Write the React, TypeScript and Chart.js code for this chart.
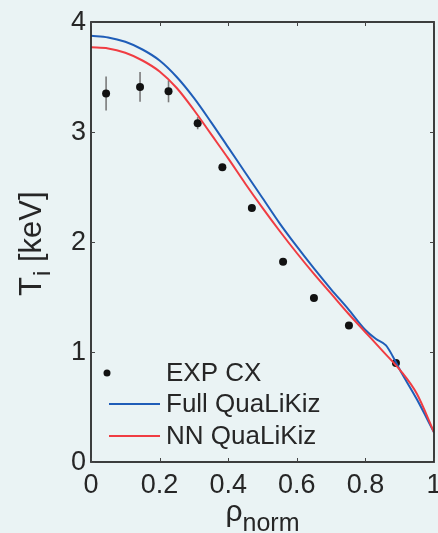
import React, { useEffect, useRef } from 'react';
import { Chart, registerables } from 'chart.js';

Chart.register(...registerables);

// Experimental CX data
const expRho = [0.044, 0.143, 0.226, 0.311, 0.383, 0.469, 0.56, 0.65, 0.752, 0.889];
const expTi = [3.35, 3.41, 3.37, 3.08, 2.68, 2.31, 1.82, 1.49, 1.24, 0.9];
const expErr = [0.155, 0.135, 0.1, 0.055, 0.03, 0.02, 0.02, 0.02, 0.02, 0.02];

// Full QuaLiKiz
const fullRho = [0, 0.05, 0.1, 0.15, 0.2, 0.25, 0.3, 0.35, 0.4, 0.45, 0.5, 0.55, 0.6, 0.65, 0.7, 0.75, 0.8, 0.83, 0.86, 0.88, 0.9, 0.95, 1.0];
const fullTi = [3.875, 3.86, 3.82, 3.75, 3.65, 3.5, 3.31, 3.09, 2.86, 2.63, 2.4, 2.17, 1.96, 1.76, 1.57, 1.39, 1.2, 1.12, 1.06, 0.96, 0.84, 0.57, 0.27];

// NN QuaLiKiz
const nnRho = [0, 0.05, 0.1, 0.15, 0.2, 0.25, 0.3, 0.35, 0.4, 0.45, 0.5, 0.55, 0.6, 0.65, 0.7, 0.75, 0.8, 0.85, 0.88, 0.9, 0.95, 1.0];
const nnTi = [3.77, 3.76, 3.72, 3.65, 3.55, 3.4, 3.2, 2.98, 2.76, 2.53, 2.31, 2.1, 1.9, 1.71, 1.53, 1.35, 1.18, 1.01, 0.91, 0.84, 0.62, 0.27];

const xTicks = [0, 0.2, 0.4, 0.6, 0.8, 1];
const yTicks = [0, 1, 2, 3, 4];
const xTickLabels = ['0', '0.2', '0.4', '0.6', '0.8', '1'];
const yTickLabels = ['0', '1', '2', '3', '4'];

const legendLabels = ['EXP CX', 'Full QuaLiKiz', 'NN QuaLiKiz'];

const BG = '#EAF3F4';
const BLUE = '#1F5DB8';
const RED = '#F03C42';
const TXT = '#262626';
const FONT = 'Arial, "Liberation Sans", Helvetica, sans-serif';

const decoPlugin = {
  id: 'deco',
  beforeDraw(chart: any) {
    const ctx = chart.ctx;
    ctx.save();
    ctx.fillStyle = BG;
    ctx.fillRect(0, 0, chart.width, chart.height);
    ctx.restore();
  },
  beforeDatasetsDraw(chart: any) {
    const ctx = chart.ctx;
    const xs = chart.scales.x;
    const ys = chart.scales.y;
    ctx.save();
    ctx.strokeStyle = '#7a7a7a';
    ctx.lineWidth = 1.6;
    for (let i = 0; i < expRho.length; i++) {
      const px = xs.getPixelForValue(expRho[i]);
      const y1 = ys.getPixelForValue(expTi[i] - expErr[i]);
      const y2 = ys.getPixelForValue(expTi[i] + expErr[i]);
      ctx.beginPath();
      ctx.moveTo(px, y1);
      ctx.lineTo(px, y2);
      ctx.stroke();
    }
    ctx.restore();
  },
  afterDraw(chart: any) {
    const ctx = chart.ctx;
    const xs = chart.scales.x;
    const ys = chart.scales.y;
    const a = chart.chartArea;
    ctx.save();
    // box
    ctx.strokeStyle = '#2a2a2a';
    ctx.lineWidth = 1.8;
    ctx.strokeRect(a.left, a.top, a.right - a.left, a.bottom - a.top);
    // inward ticks
    ctx.lineWidth = 1;
    ctx.strokeStyle = '#444';
    const tl = 4;
    xTicks.forEach((v) => {
      const px = Math.round(xs.getPixelForValue(v)) + 0.5;
      ctx.beginPath();
      ctx.moveTo(px, a.bottom);
      ctx.lineTo(px, a.bottom - tl);
      ctx.moveTo(px, a.top);
      ctx.lineTo(px, a.top + tl);
      ctx.stroke();
    });
    yTicks.forEach((v) => {
      const py = Math.round(ys.getPixelForValue(v)) + 0.5;
      ctx.beginPath();
      ctx.moveTo(a.left, py);
      ctx.lineTo(a.left + tl, py);
      ctx.moveTo(a.right, py);
      ctx.lineTo(a.right - tl, py);
      ctx.stroke();
    });
    // tick labels
    ctx.fillStyle = TXT;
    ctx.font = `27px ${FONT}`;
    ctx.textBaseline = 'middle';
    ctx.textAlign = 'center';
    xTicks.forEach((v, i) => {
      ctx.fillText(xTickLabels[i], xs.getPixelForValue(v), a.bottom + 24);
    });
    ctx.textAlign = 'right';
    yTicks.forEach((v, i) => {
      ctx.fillText(yTickLabels[i], a.left - 5, ys.getPixelForValue(v) + 1);
    });
    // x title: rho_norm
    ctx.textBaseline = 'alphabetic';
    ctx.textAlign = 'left';
    ctx.font = `30px ${FONT}`;
    const rhoW = ctx.measureText('ρ').width;
    ctx.font = `25px ${FONT}`;
    const normW = ctx.measureText('norm').width;
    const cx = (a.left + a.right) / 2;
    const startX = cx - (rhoW + normW) / 2;
    ctx.font = `30px ${FONT}`;
    ctx.fillText('ρ', startX, 521);
    ctx.font = `25px ${FONT}`;
    ctx.fillText('norm', startX + rhoW, 531);
    // y title: T_i [keV]
    ctx.save();
    ctx.translate(41, 296);
    ctx.rotate(-Math.PI / 2);
    ctx.font = `31px ${FONT}`;
    ctx.fillText('T', 0, 0);
    const tW = ctx.measureText('T').width;
    ctx.font = `24px ${FONT}`;
    ctx.fillText('i', tW + 1, 9);
    const iW = ctx.measureText('i').width;
    ctx.font = `31px ${FONT}`;
    ctx.fillText(' [keV]', tW + iW + 1, 0);
    ctx.restore();
    // legend
    const lx = a.left;
    ctx.font = `26px ${FONT}`;
    ctx.textBaseline = 'middle';
    ctx.fillStyle = '#111';
    ctx.beginPath();
    ctx.arc(lx + 16, 373, 3.5, 0, Math.PI * 2);
    ctx.fill();
    ctx.lineWidth = 2;
    ctx.strokeStyle = BLUE;
    ctx.beginPath();
    ctx.moveTo(lx + 18, 404);
    ctx.lineTo(lx + 69, 404);
    ctx.stroke();
    ctx.strokeStyle = RED;
    ctx.beginPath();
    ctx.moveTo(lx + 18, 436);
    ctx.lineTo(lx + 69, 436);
    ctx.stroke();
    ctx.fillStyle = TXT;
    ctx.fillText(legendLabels[0], lx + 75, 374);
    ctx.fillText(legendLabels[1], lx + 75, 405);
    ctx.fillText(legendLabels[2], lx + 75, 437);
    ctx.restore();
  },
};

export default function App() {
  const ref = useRef<HTMLCanvasElement>(null);
  useEffect(() => {
    document.body.style.margin = '0';
    const canvas = ref.current!;
    const chart = new Chart(canvas, {
      type: 'scatter',
      data: {
        datasets: [
          {
            label: legendLabels[2],
            data: nnRho.map((x, i) => ({ x, y: nnTi[i] })),
            showLine: true,
            borderColor: RED,
            borderWidth: 2,
            pointRadius: 0,
            cubicInterpolationMode: 'monotone',
          },
          {
            label: legendLabels[1],
            data: fullRho.map((x, i) => ({ x, y: fullTi[i] })),
            showLine: true,
            borderColor: BLUE,
            borderWidth: 2,
            pointRadius: 0,
            cubicInterpolationMode: 'monotone',
          },
          {
            label: legendLabels[0],
            data: expRho.map((x, i) => ({ x, y: expTi[i] })),
            showLine: false,
            pointRadius: 4,
            pointBackgroundColor: '#111',
            pointBorderWidth: 0,
            borderColor: '#111',
          },
        ],
      },
      options: {
        responsive: false,
        animation: false,
        events: [],
        layout: { padding: { left: 0, top: 22, right: 4, bottom: 0 } },
        plugins: { legend: { display: false }, tooltip: { enabled: false } },
        scales: {
          x: {
            type: 'linear',
            min: 0,
            max: 1,
            grid: { display: false, drawTicks: false },
            border: { display: false },
            ticks: { display: false },
            afterFit: (s: any) => {
              s.height = 71;
            },
          },
          y: {
            type: 'linear',
            min: 0,
            max: 4,
            grid: { display: false, drawTicks: false },
            border: { display: false },
            ticks: { display: false },
            afterFit: (s: any) => {
              s.width = 91;
            },
          },
        },
      },
      plugins: [decoPlugin],
    } as any);
    return () => chart.destroy();
  }, []);
  return <canvas ref={ref} width={438} height={533} style={{ display: 'block' }} />;
}
